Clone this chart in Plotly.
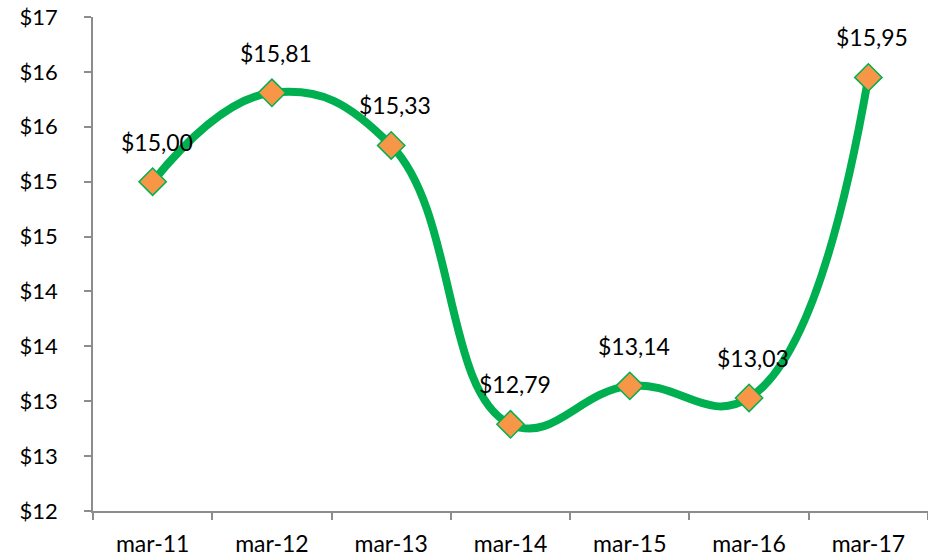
import plotly.graph_objects as go

categories = ["mar-11", "mar-12", "mar-13", "mar-14", "mar-15", "mar-16", "mar-17"]
values = [15.00, 15.81, 15.33, 12.79, 13.14, 13.03, 15.95]
value_labels = ["$15,00", "$15,81", "$15,33", "$12,79", "$13,14", "$13,03", "$15,95"]
y_tickvals = [12, 12.5, 13, 13.5, 14, 14.5, 15, 15.5, 16, 16.5]
y_ticktext = ["$12", "$13", "$13", "$14", "$14", "$15", "$15", "$16", "$16", "$17"]

FONT = "Lato"
FS = 22

fig = go.Figure()
fig.add_trace(go.Scatter(
    x=categories, y=values, mode="lines+markers",
    line=dict(color="#00B050", width=8, shape="spline", smoothing=1.25),
    marker=dict(symbol="diamond", size=21, color="#F79646",
                line=dict(color="#00B050", width=1.5)),
    hoverinfo="skip", showlegend=False, cliponaxis=False,
))

for c, v, t in zip(categories, values, value_labels):
    fig.add_annotation(x=c, y=v, text=t, showarrow=False, yshift=40, xshift=4,
                       font=dict(family=FONT, size=23, color="black"))

axis_color = "#8C8C8C"
fig.update_layout(
    width=928, height=558,
    margin=dict(l=93, r=0, t=17, b=47, autoexpand=False),
    plot_bgcolor="white", paper_bgcolor="white",
    font=dict(family=FONT, size=FS, color="black"),
    xaxis=dict(
        type="category", range=[-0.5, 6.5], showgrid=False, zeroline=False,
        showline=True, linecolor=axis_color, linewidth=1.5,
        ticks="outside", tickson="boundaries", ticklen=7, tickcolor=axis_color, tickwidth=1.5,
        tickfont=dict(family=FONT, size=23, color="black"), ticklabelstandoff=12,
        ticklabeloverflow="allow",
    ),
    yaxis=dict(
        range=[12, 16.5001], tickvals=y_tickvals, ticktext=y_ticktext,
        showgrid=False, zeroline=False,
        showline=True, linecolor=axis_color, linewidth=1.5,
        ticks="outside", ticklen=7, tickcolor=axis_color, tickwidth=1.5,
        tickfont=dict(family=FONT, size=FS, color="black"), ticklabelstandoff=22,
        ticklabeloverflow="allow",
    ),
)

fig.write_html("out.html", config={"displayModeBar": False},
               post_script="document.body.style.margin='0';document.body.style.overflow='hidden';")
